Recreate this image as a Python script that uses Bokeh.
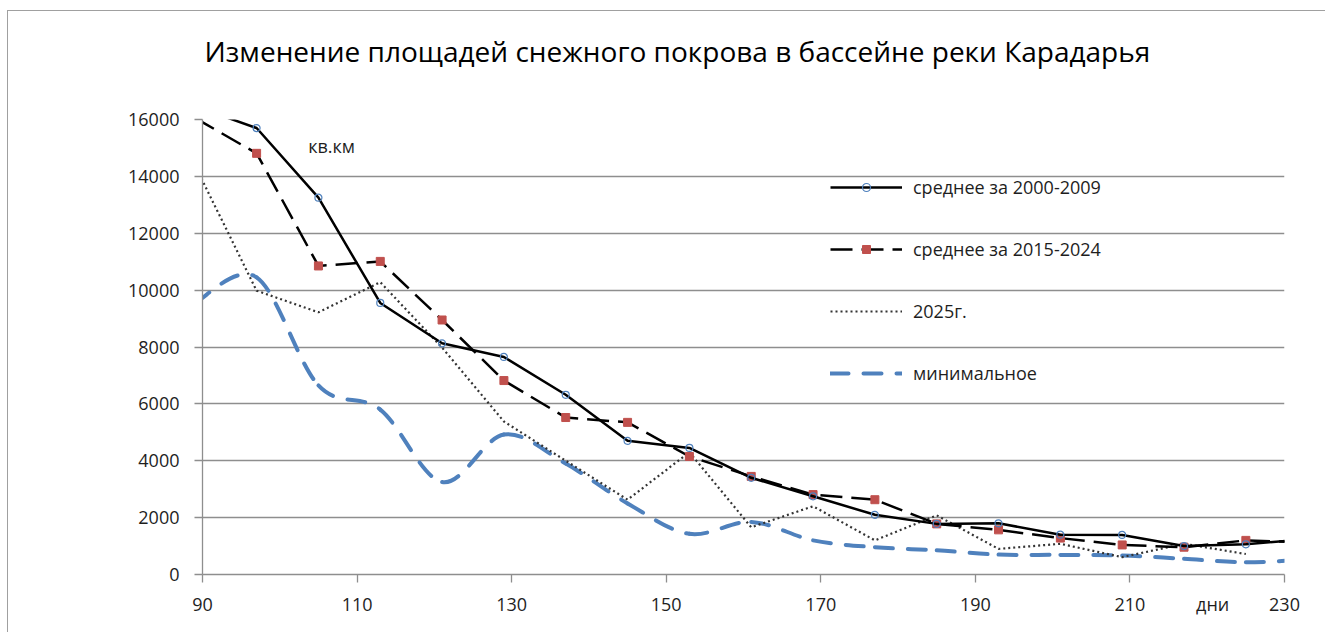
import numpy as np
from bokeh.plotting import figure
from bokeh.models import (Range1d, FixedTicker, Legend, LegendItem, Label, LinearAxis,
                          ColumnDataSource)
from bokeh.embed import file_html
from bokeh.resources import INLINE

# ---------------- data ----------------
days = [89, 97, 105, 113, 121, 129, 137, 145, 153, 161, 169, 177, 185, 193, 201, 209, 217, 225, 233]
avg_2000_2009 = [16470, 15700, 13250, 9550, 8130, 7650, 6320, 4700, 4450, 3400, 2750, 2100,
                 1780, 1800, 1400, 1390, 1000, 1060, 1250]
avg_2015_2024 = [16060, 14810, 10850, 11010, 8950, 6820, 5520, 5350, 4150, 3450, 2810, 2630,
                 1780, 1570, 1280, 1040, 960, 1200, 1120]
days_2025 = [89, 97, 105, 113, 121, 129, 137, 145, 153, 161, 169, 177, 185, 193, 201, 209, 217, 225]
year_2025 = [14400, 9980, 9220, 10280, 7980, 5380, 4000, 2630, 4300, 1660, 2400, 1200,
             2080, 900, 1080, 610, 1080, 720]
minimum = [9550, 10450, 6650, 5800, 3250, 4920, 3900, 2500, 1430, 1850, 1200, 960,
           850, 700, 690, 670, 550, 430, 530]

x_ticks = [90, 110, 130, 150, 170, 190, 210, 230]
y_ticks = [0, 2000, 4000, 6000, 8000, 10000, 12000, 14000, 16000]

title_text = "Изменение площадей снежного покрова в бассейне реки Карадарья"
title_pos = 151.45
labels = ["среднее за 2000-2009", "среднее за 2015-2024", "2025г.", "минимальное"]
y_unit = "кв.км"
x_unit = "дни"
x_unit_pos = 220.7

FONT = "Open Sans"
TXT = "#1e1e1e"
GRID = "#8e8e8e"

p = figure(width=1318, height=622, output_backend="svg", toolbar_location=None,
           x_range=Range1d(90, 230), y_range=Range1d(0, 16000), title=None,
           min_border_left=194, min_border_right=42, min_border_top=108, min_border_bottom=59)
p.outline_line_color = None
p.xgrid.visible = False
p.ygrid.grid_line_color = GRID
p.ygrid.grid_line_width = 1.3
p.ygrid.ticker = FixedTicker(ticks=y_ticks)
# chart-area frame: thin grey line on the left and top (as in the reference)
p.styles = {"margin-left": "8px", "margin-top": "11px",
            "box-shadow": "-1px -1px 0px 0px #a0a0a0"}

xa = p.xaxis[0]
ya = p.yaxis[0]
# labelled positions (incl. the unit "дни") are major ticks without marks;
# the visible tick marks are drawn as "minor" ticks at the numeric positions
xa.ticker = FixedTicker(ticks=x_ticks + [x_unit_pos], minor_ticks=x_ticks)
xa.major_label_overrides = {x_unit_pos: x_unit}
xa.major_tick_line_color = None
xa.major_tick_in = 0
xa.major_tick_out = 0
xa.minor_tick_line_color = GRID
xa.minor_tick_line_width = 1.3
xa.minor_tick_in = 0
xa.minor_tick_out = 8
xa.major_label_standoff = 9
xa.axis_line_color = GRID
xa.axis_line_width = 1.3

ya.ticker = FixedTicker(ticks=y_ticks)
ya.axis_line_color = GRID
ya.axis_line_width = 1.3
ya.major_tick_line_color = GRID
ya.major_tick_line_width = 1.3
ya.major_tick_in = 0
ya.major_tick_out = 8
ya.minor_tick_line_color = None
ya.major_label_standoff = 15

for ax in (xa, ya):
    ax.major_label_text_font = FONT
    ax.major_label_text_font_size = "18px"
    ax.major_label_text_color = TXT

# chart title, drawn as the single label of an unlined axis above the frame
ta = LinearAxis(ticker=FixedTicker(ticks=[title_pos]),
                major_label_overrides={title_pos: title_text})
ta.axis_line_color = None
ta.major_tick_line_color = None
ta.minor_tick_line_color = None
ta.major_tick_in = 0
ta.major_tick_out = 0
ta.major_label_standoff = 50
ta.major_label_text_font = FONT
ta.major_label_text_font_size = "28px"
ta.major_label_text_color = "black"
p.add_layout(ta, "above")

# ---- minimum: smoothed (Excel-style) curve drawn with bezier segments ----
mx = np.array(days, dtype=float)
my = np.array(minimum, dtype=float)
px_ = np.concatenate([[mx[0]], mx, [mx[-1]]])
py_ = np.concatenate([[my[0]], my, [my[-1]]])
n = len(mx)
bez = ColumnDataSource(dict(
    x0=mx[:-1], y0=my[:-1], x1=mx[1:], y1=my[1:],
    cx0=mx[:-1] + (px_[2:n + 1] - px_[0:n - 1]) / 6.0,
    cy0=my[:-1] + (py_[2:n + 1] - py_[0:n - 1]) / 6.0,
    cx1=mx[1:] - (px_[3:n + 2] - px_[1:n]) / 6.0,
    cy1=my[1:] - (py_[3:n + 2] - py_[1:n]) / 6.0,
))
BLUE = "#4f81bd"
p.bezier(x0="x0", y0="y0", x1="x1", y1="y1", cx0="cx0", cy0="cy0", cx1="cx1", cy1="cy1",
         source=bez, line_color=BLUE, line_width=4, line_dash="18 15", line_cap="round")
r_min_leg = p.line(x=[np.nan, np.nan], y=[np.nan, np.nan], line_color=BLUE, line_width=4,
                   line_dash="18 15", line_cap="round")

# ---- 2025 dotted ----
r_2025 = p.line(days_2025, year_2025, line_color="#333333", line_width=2.2, line_dash="2 3")

# ---- 2015-2024 dashed with red squares ----
r_b = p.line(days, avg_2015_2024, line_color="black", line_width=2.5, line_dash="22 9")
s_b = p.scatter(days, avg_2015_2024, marker="square", size=8, fill_color="#c0504d",
                line_color="#c0504d")

# ---- 2000-2009 solid with blue circles ----
r_a = p.line(days, avg_2000_2009, line_color="black", line_width=2.5)
s_a = p.scatter(days, avg_2000_2009, marker="circle", size=7, fill_color="white",
                fill_alpha=0.0, line_color=BLUE, line_width=1.2)

legend = Legend(items=[
    LegendItem(label=labels[0], renderers=[r_a, s_a]),
    LegendItem(label=labels[1], renderers=[r_b, s_b]),
    LegendItem(label=labels[2], renderers=[r_2025]),
    LegendItem(label=labels[3], renderers=[r_min_leg]),
], location=(628, 189), orientation="vertical", glyph_width=72, glyph_height=20,
    label_height=20, spacing=38, padding=0, margin=0, label_standoff=11,
    background_fill_alpha=0, border_line_alpha=0,
    label_text_font=FONT, label_text_font_size="18px", label_text_color=TXT)
p.add_layout(legend)

p.add_layout(Label(x=106.7, y=15080, text=y_unit, text_align="center",
                   text_baseline="middle", text_font=FONT, text_font_size="18px",
                   text_color=TXT))

open("out.html", "w").write(file_html(p, INLINE))
